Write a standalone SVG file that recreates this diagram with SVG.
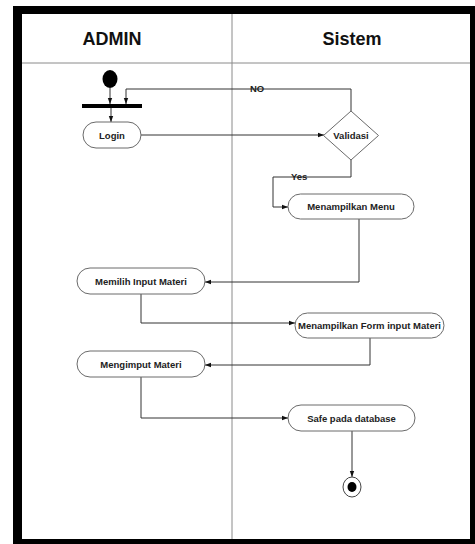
<svg xmlns="http://www.w3.org/2000/svg" width="475" height="544" viewBox="0 0 475 544">
  <style>
    .lane { fill: none; stroke: #8a8a8a; stroke-width: 1; }
    .head { font-family: "Liberation Sans", Arial, sans-serif; font-weight: bold; font-size: 18px; fill: #111; text-anchor: middle; }
    .act { fill: #fff; stroke: #6a6a6a; stroke-width: 1; }
    .lbl { font-family: "Liberation Sans", Arial, sans-serif; font-weight: bold; font-size: 9.5px; fill: #222; text-anchor: middle; }
    .guard { font-family: "Liberation Sans", Arial, sans-serif; font-weight: bold; font-size: 9.5px; fill: #222; }
    .flow { fill: none; stroke: #333; stroke-width: 1; }
  </style>
  <defs>
    <marker id="arrow" markerUnits="userSpaceOnUse" markerWidth="6" markerHeight="6" viewBox="0 0 6 6" refX="6" refY="3" orient="auto">
      <path d="M0 0.8 L6 3 L0 5.2 Z" fill="#111"/>
    </marker>
  </defs>

  <!-- frame -->
  <rect x="13" y="6" width="462" height="538" fill="#000"/>
  <rect x="22" y="14" width="448" height="525" fill="#fff"/>

  <!-- swimlanes -->
  <g id="lanes">
    <line class="lane" x1="22" y1="63" x2="470" y2="63"/>
    <line class="lane" x1="232" y1="14" x2="232" y2="539"/>
    <text class="head" x="112" y="45">ADMIN</text>
    <text class="head" x="352" y="45">Sistem</text>
  </g>

  <!-- connectors -->
  <g id="connectors">
    <path class="flow" d="M110 88 L110 104" marker-end="url(#arrow)"/>
    <path class="flow" d="M111 108 L111 122" marker-end="url(#arrow)"/>
    <path class="flow" d="M141 135 L324 135" marker-end="url(#arrow)"/>
    <path class="flow" d="M351 111 L351 89 L126 89 L126 104" marker-end="url(#arrow)"/>
    <path class="flow" d="M351 160 L351 177 L273 177 L273 207 L288 207" marker-end="url(#arrow)"/>
    <path class="flow" d="M359 219 L359 282 L205 282" marker-end="url(#arrow)"/>
    <path class="flow" d="M141 294 L141 323 L295 323" marker-end="url(#arrow)"/>
    <path class="flow" d="M370 338 L370 365 L205 365" marker-end="url(#arrow)"/>
    <path class="flow" d="M141 377 L141 418 L288 418" marker-end="url(#arrow)"/>
    <path class="flow" d="M352 431 L352 477" marker-end="url(#arrow)"/>
    <text class="guard" x="250" y="92">NO</text>
    <text class="guard" x="291" y="180">Yes</text>
  </g>

  <!-- nodes -->
  <g id="start">
    <ellipse cx="110" cy="79" rx="7.5" ry="9" fill="#000"/>
  </g>
  <g id="fork">
    <rect x="82" y="104" width="60" height="4" fill="#000"/>
  </g>
  <g id="login">
    <rect class="act" x="83" y="122" width="58" height="26" rx="13"/>
    <text class="lbl" x="112" y="138.5">Login</text>
  </g>
  <g id="validasi">
    <polygon class="act" points="351,111 378.5,135.5 351,160 323.5,135.5"/>
    <text class="lbl" x="351" y="139">Validasi</text>
  </g>
  <g id="menampilkan-menu">
    <rect class="act" x="288" y="194" width="126" height="25" rx="12.5"/>
    <text class="lbl" x="351" y="210">Menampilkan Menu</text>
  </g>
  <g id="memilih-input-materi">
    <rect class="act" x="77" y="268" width="128" height="26" rx="13"/>
    <text class="lbl" x="141" y="284.5">Memilih Input Materi</text>
  </g>
  <g id="menampilkan-form">
    <rect class="act" x="295" y="313" width="149" height="25" rx="12.5"/>
    <text class="lbl" x="369.5" y="329">Menampilkan Form input Materi</text>
  </g>
  <g id="mengimput-materi">
    <rect class="act" x="77" y="351" width="128" height="26" rx="13"/>
    <text class="lbl" x="141" y="367.5">Mengimput Materi</text>
  </g>
  <g id="safe-pada-database">
    <rect class="act" x="288" y="405" width="127" height="26" rx="13"/>
    <text class="lbl" x="351.5" y="421.5">Safe pada database</text>
  </g>
  <g id="end">
    <ellipse cx="352" cy="487" rx="9" ry="10" fill="#fff" stroke="#444" stroke-width="1"/>
    <ellipse cx="352" cy="487" rx="4.5" ry="5" fill="#000"/>
  </g>
</svg>
